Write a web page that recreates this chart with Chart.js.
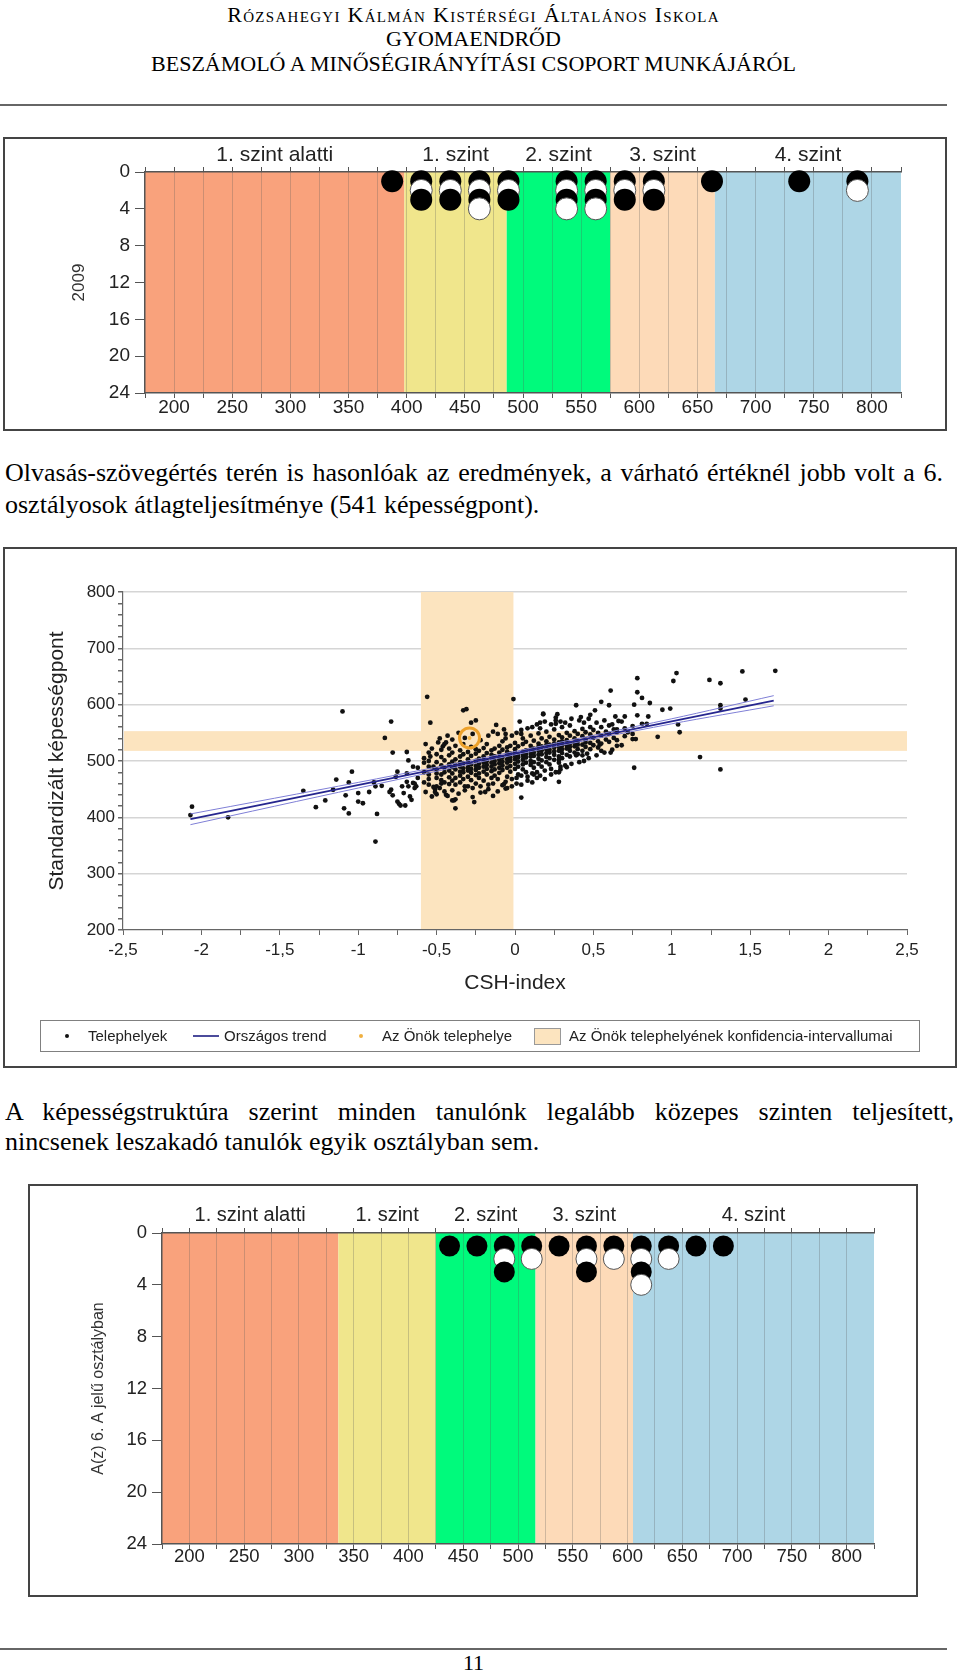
<!DOCTYPE html>
<html lang="hu">
<head>
<meta charset="UTF-8">
<title>Beszámoló - képességeloszlás</title>
<script src="https://cdn.jsdelivr.net/npm/chart.js"></script>
<style>
    body { margin: 0; background: #fff; }
    #page {
        position: relative; width: 960px; height: 1674px; overflow: hidden;
        font-family: "Liberation Serif", "Times New Roman", serif; color: #000;
    }
    .head { position: absolute; left: 0; width: 947px; text-align: center; font-size: 22px; line-height: 25px; white-space: nowrap; }
    .sc { font-variant: small-caps; letter-spacing: 1.3px; }
    .rule { position: absolute; left: 0; width: 947px; height: 2px; background: #666; }
    .line { position: absolute; left: 5px; font-size: 26px; white-space: nowrap; }
    .just { text-align: justify; text-align-last: justify; }
    .frame { position: absolute; border: 2px solid #444; box-sizing: border-box; }
    .frame canvas { position: absolute; left: 0; top: 0; }
    #legend { position: absolute; left: 40px; top: 1020px; width: 880px; height: 32px; border: 1px solid #808080; box-sizing: border-box; }
    .lg { position: absolute; font-family: "Liberation Sans", Arial, sans-serif; font-size: 15px; line-height: 18px; color: #222; top: 1027px; white-space: nowrap; }
    .mark { position: absolute; }
</style>
</head>
<body>
<div id="page">
    <div class="head sc" style="top:2px">Rózsahegyi Kálmán Kistérségi Általános Iskola</div>
    <div class="head" style="top:26px">GYOMAENDRŐD</div>
    <div class="head" style="top:51px">BESZÁMOLÓ A MINŐSÉGIRÁNYÍTÁSI CSOPORT MUNKÁJÁRÓL</div>
    <div class="rule" style="top:104px"></div>

    <div class="frame" style="left:3px; top:137px; width:944px; height:294px;">
        <canvas id="chart2009" width="940" height="290"></canvas>
    </div>

    <div class="line just" style="top:457px; width:938px; line-height:32px;">Olvasás-szövegértés terén is hasonlóak az eredmények, a várható értéknél jobb volt a 6.</div>
    <div class="line" style="top:489px; line-height:32px;">osztályosok átlagteljesítménye (541 képességpont).</div>

    <div class="frame" style="left:3px; top:547px; width:954px; height:521px;">
        <canvas id="chartCsh" width="950" height="517"></canvas>
    </div>

    <!-- jelmagyarázat -->
    <div id="legend"></div>
    <div class="mark" style="left:65px; top:1034px; width:4px; height:4px; border-radius:2px; background:#111;"></div>
    <div class="lg" style="left:88px;">Telephelyek</div>
    <div class="mark" style="left:193px; top:1035px; width:26px; height:2px; background:#4b4b9b;"></div>
    <div class="lg" style="left:224px;">Országos trend</div>
    <div class="mark" style="left:359px; top:1034px; width:4px; height:4px; border-radius:2px; background:#f0b040;"></div>
    <div class="lg" style="left:382px;">Az Önök telephelye</div>
    <div class="mark" style="left:534px; top:1028px; width:27px; height:17px; background:#fce4bf; border:1px solid #999; box-sizing:border-box;"></div>
    <div class="lg" style="left:569px;">Az Önök telephelyének konfidencia-intervallumai</div>

    <div class="line just" style="top:1097px; width:949px; line-height:30px;">A képességstruktúra szerint minden tanulónk legalább közepes szinten teljesített,</div>
    <div class="line" style="top:1127px; line-height:30px;">nincsenek leszakadó tanulók egyik osztályban sem.</div>

    <div class="frame" style="left:28px; top:1184px; width:890px; height:413px;">
        <canvas id="chart6a" width="886" height="409"></canvas>
    </div>

    <div class="rule" style="top:1648px"></div>
    <div class="head" style="top:1651px; font-size:22px; line-height:24px;">11</div>
</div>

<script>
    // ---- képességszintek ----
    const levelLabels = ['1. szint alatti', '1. szint', '2. szint', '3. szint', '4. szint'];
    const levelColors = ['#f9a27c', '#f0e68c', '#00fa7c', '#fddab8', '#aed6e6'];
    const limits2009 = [175, 398, 486, 575, 665, 825];
    const limits6a = [175, 336, 425, 516, 605, 825];

    // tanulók pontszám-sávonként, fentről lefelé (B = fekete, W = fehér)
    const bins2009 = [387.5, 412.5, 437.5, 462.5, 487.5, 537.5, 562.5, 587.5, 612.5, 662.5, 737.5, 787.5];
    const stacks2009 = ['B', 'BWB', 'BWB', 'BWBW', 'BWB', 'BWBW', 'BWBW', 'BWB', 'BWB', 'B', 'B', 'BW'];
    const bins6a = [437.5, 462.5, 487.5, 512.5, 537.5, 562.5, 587.5, 612.5, 637.5, 662.5, 687.5];
    const stacks6a = ['B', 'B', 'BWB', 'BW', 'B', 'BWB', 'BW', 'BWBW', 'BW', 'B', 'B'];

    // ---- CSH-index pontfelhő ----
    const sitesLeft = [
        [-2.07, 404], [-2.06, 419], [-1.83, 400], [-1.35, 447], [-1.27, 418], [-1.21, 430], [-1.16, 449],
        [-1.14, 467], [-1.10, 588], [-1.09, 416], [-1.08, 439], [-1.06, 407], [-1.06, 462], [-1.04, 481],
        [-1.00, 443], [-1.00, 428], [-0.97, 425], [-0.93, 445], [-0.90, 462], [-0.89, 357], [-0.88, 406],
        [-0.89, 455], [-0.85, 456], [-0.83, 541], [-0.79, 570], [-0.78, 515], [-0.79, 449], [-0.78, 439],
        [-0.76, 472], [-0.75, 481], [-0.75, 428], [-0.72, 455], [-0.73, 421], [-0.70, 421], [-0.71, 443],
        [-0.69, 516], [-0.68, 501], [-0.69, 478], [-0.68, 455], [-0.67, 437], [-0.66, 431], [-0.65, 461],
        [-0.65, 490], [-0.64, 452], [-0.63, 455], [-0.80, 445], [-0.69, 463], [-0.64, 460], [-0.74, 424]
    ];
    const sitesBand = [
        [-0.56, 614], [-0.54, 568], [-0.54, 508], [-0.52, 490], [-0.49, 533], [-0.50, 478], [-0.51, 450],
        [-0.50, 441], [-0.46, 526], [-0.44, 533], [-0.38, 416], [-0.39, 430], [-0.33, 590], [-0.28, 568],
        [-0.26, 427], [-0.31, 592], [-0.01, 610], [-0.25, 572], [-0.12, 564], [-0.07, 556], [0.03, 570],
        [0.18, 583], [0.26, 577], [-0.19, 445], [-0.06, 451], [-0.08, 457], [-0.38, 432], [-0.44, 440],
        [-0.51, 445], [-0.52, 454], [-0.47, 460]
    ];
    const sitesRight = [
        [1.66, 660], [1.45, 659], [1.24, 644], [1.31, 638], [1.03, 656], [1.01, 642], [0.78, 647], [0.61, 625],
        [0.78, 622], [0.81, 612], [0.86, 603], [0.76, 600], [0.99, 593], [0.94, 591], [1.47, 609], [1.31, 599],
        [1.31, 593], [1.04, 565], [1.05, 551], [0.91, 543], [1.18, 507], [1.31, 485], [0.76, 488], [0.28, 463],
        [0.04, 435], [0.55, 605], [0.60, 599], [0.39, 599], [0.51, 590], [0.42, 578], [0.48, 582], [0.27, 583],
        [0.18, 584], [0.70, 579], [0.64, 579], [0.78, 581], [0.85, 579], [0.81, 566], [0.84, 566], [0.66, 571],
        [0.75, 539], [0.77, 539], [0.72, 551], [0.65, 556], [0.65, 527], [0.61, 515], [0.55, 518], [0.54, 529],
        [0.33, 489], [0.28, 480], [0.28, 502], [0.12, 476], [0.04, 474], [-0.05, 452], [-0.07, 459], [0.39, 510],
        [0.43, 510], [0.46, 513]
    ];
    // sűrű mag: x oszlopok és a hozzájuk tartozó pontszámok
    const coreX = [-0.62, -0.58, -0.55, -0.50, -0.47, -0.45, -0.42, -0.40, -0.38, -0.35, -0.33, -0.30, -0.28,
        -0.25, -0.23, -0.20, -0.18, -0.15, -0.13, -0.10, -0.08, -0.05, -0.03, 0.00, 0.02, 0.05, 0.07, 0.10,
        0.12, 0.15, 0.17, 0.20, 0.22, 0.25, 0.28, 0.30, 0.33, 0.35, 0.38, 0.40, 0.43, 0.45, 0.48, 0.50, 0.53,
        0.55, 0.58, 0.60, 0.63, 0.65, 0.70, 0.75];
    const coreY = [
        [470, 488], [462, 480, 497, 505], [468, 476, 490, 500, 515, 458], [470, 485, 498, 455, 512],
        [476, 492, 507, 466, 520], [462, 488, 501, 480, 530, 446], [471, 494, 510, 483, 459, 522],
        [478, 499, 465, 515, 489, 448], [485, 503, 470, 527, 493, 458], [474, 490, 508, 481, 462, 519, 498],
        [480, 496, 512, 468, 487, 530], [472, 489, 503, 516, 483, 455, 497], [479, 494, 509, 486, 466, 525],
        [484, 500, 513, 475, 491, 460, 521], [488, 504, 518, 478, 495, 470], [481, 497, 508, 523, 490, 465, 502],
        [486, 500, 514, 476, 493, 530], [490, 505, 519, 482, 497, 470, 511], [494, 508, 485, 522, 500, 474],
        [488, 502, 515, 496, 527, 479, 507], [492, 506, 520, 484, 499, 535], [497, 510, 524, 488, 503, 472, 516],
        [500, 513, 491, 527, 506, 481], [495, 509, 521, 503, 486, 532, 515], [499, 512, 526, 490, 506, 476],
        [502, 516, 530, 494, 509, 540, 485], [506, 519, 497, 534, 512, 480], [500, 514, 527, 508, 493, 545, 520],
        [509, 522, 498, 536, 515, 488], [504, 518, 531, 511, 495, 549, 525], [512, 526, 501, 540, 519, 490],
        [507, 521, 535, 514, 498, 552, 528], [515, 529, 505, 543, 520, 494], [511, 524, 538, 517, 502, 556, 531],
        [518, 533, 508, 546, 525, 497], [514, 528, 542, 521, 505, 560, 535], [522, 537, 511, 550, 528],
        [518, 531, 545, 525, 508, 563], [526, 540, 515, 553, 532], [521, 535, 548, 529, 512],
        [529, 544, 518, 557], [525, 538, 551, 533], [532, 547, 521, 560], [528, 541, 555], [535, 550, 524],
        [531, 545, 560], [538, 552], [534, 548, 563], [541, 556], [537, 551], [544, 558], [548, 562]
    ];
    // a mag szélesebb szórású pontjai
    const spreadX = [-0.57, -0.53, -0.48, -0.43, -0.40, -0.36, -0.32, -0.27, -0.22, -0.17, -0.14, -0.11, -0.06,
        -0.02, 0.01, 0.04, 0.08, 0.11, 0.14, 0.16, 0.19, 0.23, 0.26, 0.29, 0.32, 0.36, 0.41, 0.44, 0.47, 0.52,
        0.57, 0.62, 0.68];
    const spreadY = [
        [445, 530], [437, 522], [452, 540], [438, 545], [430, 538], [442, 550], [448, 455, 541], [436, 452, 548],
        [444, 455, 537], [450, 458, 545], [438, 460, 552], [446, 468, 548], [463, 540, 548], [455, 468, 545],
        [460, 470, 550], [458, 548, 555], [465, 472, 558], [462, 478, 560], [470, 480, 565], [474, 558, 568],
        [468, 483, 570], [476, 486, 565], [480, 566, 572], [485, 490, 570], [492, 568], [495, 575], [498, 572],
        [500, 568], [505, 575], [510, 568], [515, 572], [520, 565], [528, 570]
    ];
    const trendX = [-2.07, 1.65];
    const trendY = [397, 607];
    const ciX = [-2.07, -1, 0, 1, 1.65];
    const ciUpper = [406, 462, 517, 575, 616];
    const ciLower = [387, 452, 511, 566, 598];
    const school = { x: -0.29, y: 541 };
    const confX = [-0.6, -0.01];
    const confY = [518, 553];

    Chart.defaults.font.family = '"Liberation Sans", Arial, sans-serif';
    Chart.defaults.color = '#222';

    const levelPlugin = {
        id: 'levels',
        beforeDraw(chart, args, o) {
            const { ctx, chartArea: a } = chart;
            const x = chart.scales.x;
            ctx.save();
            levelColors.forEach((c, i) => {
                const x0 = x.getPixelForValue(o.limits[i]);
                const x1 = x.getPixelForValue(o.limits[i + 1]);
                ctx.fillStyle = c;
                ctx.fillRect(x0, a.top, x1 - x0, a.bottom - a.top);
            });
            ctx.restore();
        },
        afterDraw(chart, args, o) {
            const { ctx } = chart;
            const x = chart.scales.x;
            ctx.save();
            ctx.fillStyle = '#222';
            ctx.font = o.font;
            ctx.textAlign = 'center';
            ctx.textBaseline = 'middle';
            levelLabels.forEach((t, i) => {
                const cx = (x.getPixelForValue(o.limits[i]) + x.getPixelForValue(o.limits[i + 1])) / 2;
                ctx.fillText(t, cx, o.labelY);
            });
            ctx.restore();
        }
    };

    // egy oszlopon belül felülről lefelé rajzolunk, így az alsó kör takarja a felsőt
    function dots(bins, stacks) {
        const pts = [], kinds = [];
        bins.forEach((b, i) => {
            [...stacks[i]].forEach((k, j) => {
                pts.push({ x: b, y: j + 1 });
                kinds.push(k);
            });
        });
        return { pts, kinds };
    }

    function levelChart(id, o) {
        const font = { size: o.tickSize, lineHeight: 1 };
        const d = dots(o.bins, o.stacks);
        return new Chart(document.getElementById(id), {
            type: 'scatter',
            data: {
                datasets: [{
                    data: d.pts, pointRadius: o.r, clip: false,
                    backgroundColor: d.kinds.map(k => k === 'B' ? '#000' : '#fff'),
                    borderColor: d.kinds.map(k => k === 'B' ? '#000' : '#555'),
                    borderWidth: d.kinds.map(k => k === 'B' ? 0 : 1)
                }]
            },
            options: {
                responsive: false, animation: false, events: [],
                layout: { padding: { left: o.padL, right: o.padR, top: 0, bottom: 0 } },
                plugins: {
                    legend: { display: false }, tooltip: { enabled: false },
                    levels: { limits: o.limits, labelY: o.labelY, font: o.labelFont }
                },
                scales: {
                    x: {
                        type: 'linear', position: 'bottom', min: 175, max: 825,
                        afterFit: s => { s.height = o.xH; },
                        ticks: { stepSize: 25, autoSkip: false, maxRotation: 0, padding: o.xPad, font,
                            callback: v => v % 50 === 0 ? v : '' },
                        grid: { color: c => (c.tick && c.tick.value > 175 && c.tick.value < 825) ? 'rgba(90,90,90,0.28)' : 'rgba(0,0,0,0)',
                            tickColor: '#555', tickLength: 5 },
                        border: { color: '#555', width: 1.5 }
                    },
                    top: {
                        type: 'linear', axis: 'x', position: 'top', min: 175, max: 825,
                        afterFit: s => { s.height = o.topH; },
                        ticks: { display: false, stepSize: 25, autoSkip: false },
                        grid: { drawOnChartArea: false, tickLength: 5, tickColor: '#555' },
                        border: { color: '#555', width: 1.5 }
                    },
                    y: {
                        type: 'linear', min: 0, max: 24, reverse: true,
                        afterFit: s => { s.width = o.yW; },
                        ticks: { stepSize: 4, autoSkip: false, padding: 5, font },
                        grid: { drawOnChartArea: false, tickLength: 10, tickColor: '#555' },
                        border: { color: '#555', width: 1.5 },
                        title: { display: true, text: o.yTitle, color: '#333', font: { size: o.yTitleSize }, padding: { top: o.yTitlePad, bottom: 0 } }
                    }
                }
            },
            plugins: [levelPlugin]
        });
    }

    levelChart('chart2009', {
        bins: bins2009, stacks: stacks2009, limits: limits2009, r: 11,
        padL: 58, yW: 82, padR: 44, topH: 33, xH: 36, xPad: 0, labelY: 16,
        labelFont: '21px "Liberation Sans", Arial, sans-serif', tickSize: 19,
        yTitle: '2009', yTitleSize: 17, yTitlePad: 6
    });

    levelChart('chart6a', {
        bins: bins6a, stacks: stacks6a, limits: limits6a, r: 10.5,
        padL: 53, yW: 79, padR: 42, topH: 47, xH: 51, xPad: -1, labelY: 29,
        labelFont: '20px "Liberation Sans", Arial, sans-serif', tickSize: 18.5,
        yTitle: 'A(z) 6. A jelű osztályban', yTitleSize: 16, yTitlePad: 6
    });

    // ---- pontfelhő ----
    const sites = sitesLeft.concat(sitesBand, sitesRight);
    coreX.forEach((x, i) => coreY[i].forEach(y => sites.push([x, y])));
    spreadX.forEach((x, i) => spreadY[i].forEach(y => sites.push([x, y])));

    const confPlugin = {
        id: 'conf',
        beforeDatasetsDraw(chart) {
            const { ctx, chartArea: a, scales: { x, y } } = chart;
            ctx.save();
            ctx.fillStyle = '#fce4bf';
            const x0 = x.getPixelForValue(confX[0]), x1 = x.getPixelForValue(confX[1]);
            ctx.fillRect(x0, a.top, x1 - x0, a.bottom - a.top - 1);
            const y0 = y.getPixelForValue(confY[1]), y1 = y.getPixelForValue(confY[0]);
            ctx.fillRect(a.left + 1, y0, a.right - a.left - 1, y1 - y0);
            ctx.restore();
        }
    };

    const comma = v => String(Math.round(v * 10) / 10).replace('.', ',');

    new Chart(document.getElementById('chartCsh'), {
        type: 'scatter',
        data: {
            datasets: [
                { label: 'Az Önök telephelye', data: [school], pointRadius: 10, borderWidth: 3, borderColor: '#eda12b', backgroundColor: 'rgba(0,0,0,0)' },
                { data: [school], pointRadius: 2, borderWidth: 0, backgroundColor: '#f2b548' },
                { label: 'Országos trend', data: trendX.map((x, i) => ({ x, y: trendY[i] })), showLine: true, pointRadius: 0, borderColor: '#26268f', borderWidth: 1.8 },
                { data: ciX.map((x, i) => ({ x, y: ciUpper[i] })), showLine: true, pointRadius: 0, borderColor: '#7f7fd6', borderWidth: 1, tension: 0.3 },
                { data: ciX.map((x, i) => ({ x, y: ciLower[i] })), showLine: true, pointRadius: 0, borderColor: '#7f7fd6', borderWidth: 1, tension: 0.3 },
                { label: 'Telephelyek', data: sites.map(p => ({ x: p[0], y: p[1] })), pointRadius: 2.4, borderWidth: 0, backgroundColor: '#111' }
            ]
        },
        options: {
            responsive: false, animation: false, events: [],
            layout: { padding: { left: 40, right: 48, top: 43, bottom: 70 } },
            plugins: { legend: { display: false }, tooltip: { enabled: false } },
            scales: {
                x: {
                    type: 'linear', min: -2.5, max: 2.5,
                    afterFit: s => { s.height = 66; },
                    ticks: { stepSize: 0.25, autoSkip: false, maxRotation: 0, padding: 7, font: { size: 17, lineHeight: 1 },
                        callback: v => Math.abs(v * 2 - Math.round(v * 2)) < 1e-6 ? comma(v) : '' },
                    grid: { drawOnChartArea: false, tickLength: 5, tickColor: '#666' },
                    border: { color: '#666', width: 1.2 },
                    title: { display: true, text: 'CSH-index', color: '#222', font: { size: 21 }, padding: { top: 0, bottom: 0 } }
                },
                y: {
                    type: 'linear', min: 200, max: 800,
                    afterFit: s => { s.width = 78; },
                    ticks: { stepSize: 20, autoSkip: false, padding: 3, font: { size: 17, lineHeight: 1 },
                        callback: v => v % 100 === 0 ? v : '' },
                    grid: { color: c => (c.tick && c.tick.value % 100 === 0 && c.tick.value > 200) ? '#d5d5d5' : 'rgba(0,0,0,0)',
                        lineWidth: 1.5, tickColor: '#666', tickLength: 5 },
                    border: { color: '#666', width: 1.2 },
                    title: { display: true, text: 'Standardizált képességpont', color: '#222', font: { size: 21 }, padding: { top: 0, bottom: 0 } }
                }
            }
        },
        plugins: [confPlugin]
    });
</script>
</body>
</html>
